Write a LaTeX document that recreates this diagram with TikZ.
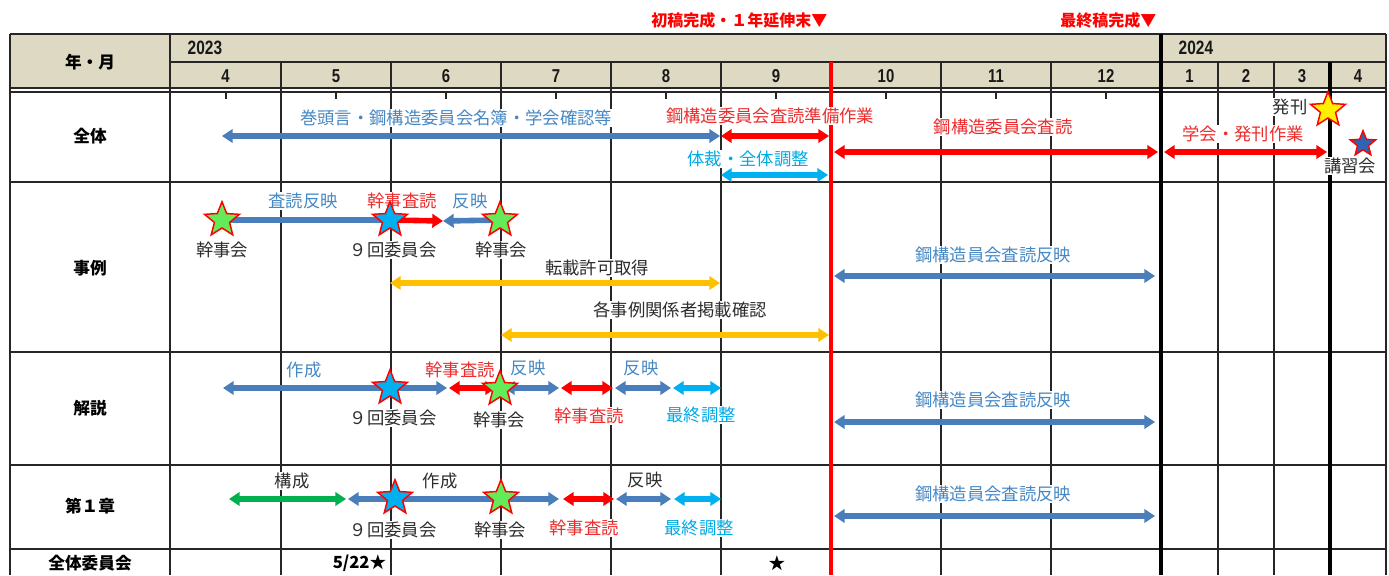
\documentclass[tikz,border=0pt]{standalone}
\usepackage{fontspec}
\setmainfont{Noto Sans CJK JP}
\newfontfamily\hdnum[FakeStretch=0.8]{Liberation Sans}
\usetikzlibrary{arrows.meta,shapes.geometric}
\definecolor{hdr}{RGB}{221,217,195}
\definecolor{barblue}{RGB}{74,126,187}
\definecolor{barred}{RGB}{255,0,0}
\definecolor{barcyan}{RGB}{0,176,240}
\definecolor{barorange}{RGB}{255,192,0}
\definecolor{bargreen}{RGB}{0,176,80}
\definecolor{txtblue}{RGB}{70,136,196}
\definecolor{txtred}{RGB}{235,45,45}
\definecolor{txtcyan}{RGB}{0,170,230}
\definecolor{txtblack}{RGB}{45,45,45}
\definecolor{stargreen}{RGB}{100,235,90}
\definecolor{starblue}{RGB}{0,176,240}
\definecolor{staryellow}{RGB}{255,240,0}
\definecolor{stardark}{RGB}{46,100,180}
\tikzset{
  gridline/.style={line width=1pt, draw=black!85},
  thickline/.style={line width=3pt, draw=black},
  redline/.style={line width=2.5pt, draw=barred},
  tickline/.style={line width=1pt, draw=black!85},
  lbl/.style={font=\fontsize{13}{13}\selectfont, inner sep=0.6pt, fill=white},
  rowlbl/.style={font=\fontsize{12.5}{12.5}\selectfont\bfseries, text=black},
  hdnumlbl/.style={font=\hdnum\bfseries\fontsize{14.5}{14.5}\selectfont, text=black!90},
  toplbl/.style={font=\fontsize{12}{12}\selectfont\bfseries, text=barred, anchor=east},
  dbar/.style={line width=4.2pt, {Triangle[length=8pt,width=10pt]}-{Triangle[length=8pt,width=10pt]}},
  lbar/.style={line width=4.2pt, {Triangle[length=8pt,width=10pt]}-},
  rbar/.style={line width=4.2pt, -{Triangle[length=8pt,width=10pt]}},
  pbar/.style={line width=4.2pt},
  starbase/.style={star, star points=5, star point ratio=2.3, minimum size=27.5pt, inner sep=0pt, draw=barred, line width=1.1pt},
  starG/.style={starbase, fill=stargreen},
  starB/.style={starbase, fill=starblue},
  starY/.style={starbase, fill=staryellow},
  starK/.style={starbase, minimum size=20pt, fill=stardark},
}
\begin{document}
\begin{tikzpicture}[x=0.75pt,y=-0.75pt]
\useasboundingbox (0,0) rectangle (1389,575);
% header background
\fill[hdr] (10,34) rectangle (1386,88);
% horizontal grid
\draw[gridline] (10,34) -- (1386,34);
\draw[gridline] (170,62) -- (1386,62);
\draw[gridline] (10,88) -- (1386,88);
\draw[gridline] (10,92) -- (1386,92);
\foreach \yy in {182,352,465,549} \draw[gridline] (10,\yy) -- (1386,\yy);
% vertical grid
\draw[gridline] (10,34) -- (10,575);
\draw[gridline] (170,34) -- (170,575);
\draw[gridline] (1386,34) -- (1386,575);
\foreach \xx in {281,391,501,611,721,941,1051,1218,1274} \draw[gridline] (\xx,62) -- (\xx,575);
\foreach \xx in {226,336,446,556,666,776,886,996,1106} \draw[tickline] (\xx,92) -- (\xx,99);
\draw[thickline] (1161,34) -- (1161,575);
\draw[thickline] (1330,62) -- (1330,575);
\draw[redline] (831,62) -- (831,575);

% top notes
\node[toplbl] (n1) at (832,20) {初稿完成・１年延伸末▼};
\node[toplbl] (n2) at (1161,20) {最終稿完成▼};

% header texts
\node[rowlbl] (h0) at (90,62) {年・月};
\node[hdnumlbl, anchor=west] (y23) at (183,48) {2023};
\node[hdnumlbl, anchor=west] (y24) at (1174,48) {2024};
\foreach \cx/\m [count=\i] in {225.5/4,336/5,446/6,556/7,666/8,776/9,886/10,996/11,1106/12,1189.5/1,1246/2,1302/3,1358/4}
  \node[hdnumlbl, font=\hdnum\bfseries\fontsize{14}{14}\selectfont] (m\i) at (\cx,76) {\m};

% row labels
\node[rowlbl] (r1) at (90,136) {全体};
\node[rowlbl] (r2) at (90,268) {事例};
\node[rowlbl] (r3) at (90,408) {解説};
\node[rowlbl] (r4) at (90,506) {第１章};
\node[rowlbl] (r5) at (90,563) {全体委員会};

% ---------- coordinates ----------
\coordinate (a1) at (222,136);  \coordinate (a2) at (720,136);
\coordinate (a3) at (721,136);  \coordinate (a4) at (829,136);
\coordinate (a5) at (721,175);  \coordinate (a6) at (828,175);
\coordinate (a7) at (834,152);  \coordinate (a8) at (1158,152);
\coordinate (a9) at (1164,152); \coordinate (a10) at (1327,152);
\coordinate (b1) at (443,221);
\coordinate (b3) at (390,283);  \coordinate (b4) at (720,283);
\coordinate (b5) at (501,335);  \coordinate (b6) at (829,335);
\coordinate (b7) at (834,276);  \coordinate (b8) at (1155,276);
\coordinate (c1) at (223,388);  \coordinate (c2) at (447,388);
\coordinate (c3) at (449,388);  \coordinate (c4) at (496,388);
\coordinate (c5) at (504,388);  \coordinate (c6) at (559,388);
\coordinate (c7) at (561,388);  \coordinate (c8) at (613,388);
\coordinate (c9) at (615,388);  \coordinate (c10) at (671,388);
\coordinate (c11) at (673,388); \coordinate (c12) at (721,388);
\coordinate (c13) at (834,422); \coordinate (c14) at (1155,422);
\coordinate (d1) at (229,499);  \coordinate (d2) at (346,499);
\coordinate (d3) at (348,499);  \coordinate (d4) at (559,499);
\coordinate (d5) at (563,499);  \coordinate (d6) at (614,499);
\coordinate (d7) at (616,499);  \coordinate (d8) at (671,499);
\coordinate (d9) at (674,499);  \coordinate (d10) at (721,499);
\coordinate (d11) at (834,516); \coordinate (d12) at (1155,516);

\coordinate (sG1p) at (222,220);
\coordinate (sB1p) at (390,220);
\coordinate (sG2p) at (500,220);

% ---------- bars ----------
% 全体
\draw[dbar, draw=barblue] (a1) -- (a2);
\draw[dbar, draw=barred] (a3) -- (a4);
\draw[dbar, draw=barcyan] (a5) -- (a6);
\draw[dbar, draw=barred] (a7) -- (a8);
\draw[dbar, draw=barred] (a9) -- (a10);
% 事例
\draw[pbar, draw=barblue] (sG1p) -- (sB1p);
\draw[rbar, draw=barred] (sB1p) -- (b1);
\draw[lbar, draw=barblue] (b1) -- (sG2p);
\draw[dbar, draw=barorange] (b3) -- (b4);
\draw[dbar, draw=barorange] (b5) -- (b6);
\draw[dbar, draw=barblue] (b7) -- (b8);
% 解説
\draw[dbar, draw=barblue] (c1) -- (c2);
\draw[dbar, draw=barred] (c3) -- (c4);
\draw[dbar, draw=barblue] (c5) -- (c6);
\draw[dbar, draw=barred] (c7) -- (c8);
\draw[dbar, draw=barblue] (c9) -- (c10);
\draw[dbar, draw=barcyan] (c11) -- (c12);
\draw[dbar, draw=barblue] (c13) -- (c14);
% 第1章
\draw[dbar, draw=bargreen] (d1) -- (d2);
\draw[dbar, draw=barblue] (d3) -- (d4);
\draw[dbar, draw=barred] (d5) -- (d6);
\draw[dbar, draw=barblue] (d7) -- (d8);
\draw[dbar, draw=barcyan] (d9) -- (d10);
\draw[dbar, draw=barblue] (d11) -- (d12);

% ---------- labels ----------
% 全体
\node[lbl, text=txtblue] (l1) at (456,118) {巻頭言・鋼構造委員会名簿・学会確認等};
\node[lbl, text=txtred] (l2) at (770,116) {鋼構造委員会査読準備作業};
\node[lbl, text=txtcyan] (l3) at (748,159) {体裁・全体調整};
\node[lbl, text=txtred] (l4) at (1003,127) {鋼構造委員会査読};
\node[lbl, text=txtred] (l5) at (1243,134) {学会・発刊作業};
\node[lbl, text=txtblack] (l6) at (1290,107) {発刊};
\node[lbl, text=txtblack] (l7) at (1350,166) {講習会};
% 事例
\node[lbl, text=txtblue] (e1) at (303,201) {査読反映};
\node[lbl, text=txtred] (e2) at (402,201) {幹事査読};
\node[lbl, text=txtblue] (e3) at (470,201) {反映};
\node[lbl, text=txtblack] (e4) at (222,250) {幹事会};
\node[lbl, text=txtblack] (e5) at (393,250) {９回委員会};
\node[lbl, text=txtblack] (e6) at (501,250) {幹事会};
\node[lbl, text=txtblack] (e7) at (597,268) {転載許可取得};
\node[lbl, text=txtblack] (e8) at (680,310) {各事例関係者掲載確認};
\node[lbl, text=txtblue] (e9) at (993,255) {鋼構造員会査読反映};
% 解説
\node[lbl, text=txtblue] (k1) at (304,370) {作成};
\node[lbl, text=txtred] (k2) at (460,370) {幹事査読};
\node[lbl, text=txtblue] (k3) at (528,368) {反映};
\node[lbl, text=txtblue] (k4) at (641,368) {反映};
\node[lbl, text=txtblack] (k5) at (393,418) {９回委員会};
\node[lbl, text=txtblack] (k6) at (499,420) {幹事会};
\node[lbl, text=txtred] (k7) at (589,416) {幹事査読};
\node[lbl, text=txtcyan] (k8) at (701,415) {最終調整};
\node[lbl, text=txtblue] (k9) at (993,400) {鋼構造員会査読反映};
% 第1章
\node[lbl, text=txtblack] (f1) at (292,481) {構成};
\node[lbl, text=txtblack] (f2) at (440,481) {作成};
\node[lbl, text=txtblack] (f3) at (645,480) {反映};
\node[lbl, text=txtblack] (f4) at (393,530) {９回委員会};
\node[lbl, text=txtblack] (f5) at (500,530) {幹事会};
\node[lbl, text=txtred] (f6) at (584,528) {幹事査読};
\node[lbl, text=txtcyan] (f7) at (699,528) {最終調整};
\node[lbl, text=txtblue] (f8) at (993,494) {鋼構造員会査読反映};
% 全体委員会
\node[rowlbl, anchor=east] (g1) at (391,563) {5/22★};
\node[rowlbl] (g2) at (777,563) {★};

% ---------- stars ----------
\node[starG] (sG1) at (sG1p) {};
\node[starB] (sB1) at (sB1p) {};
\node[starG] (sG2) at (sG2p) {};
\node[starB] (sB2) at (390,388) {};
\node[starG] (sG3) at (500,389) {};
\node[starB] (sB3) at (395,498) {};
\node[starG] (sG4) at (501,498) {};
\node[starY] (sY) at (1328,110) {};
\node[starK] (sK) at (1363,144) {};
\end{tikzpicture}
\end{document}
